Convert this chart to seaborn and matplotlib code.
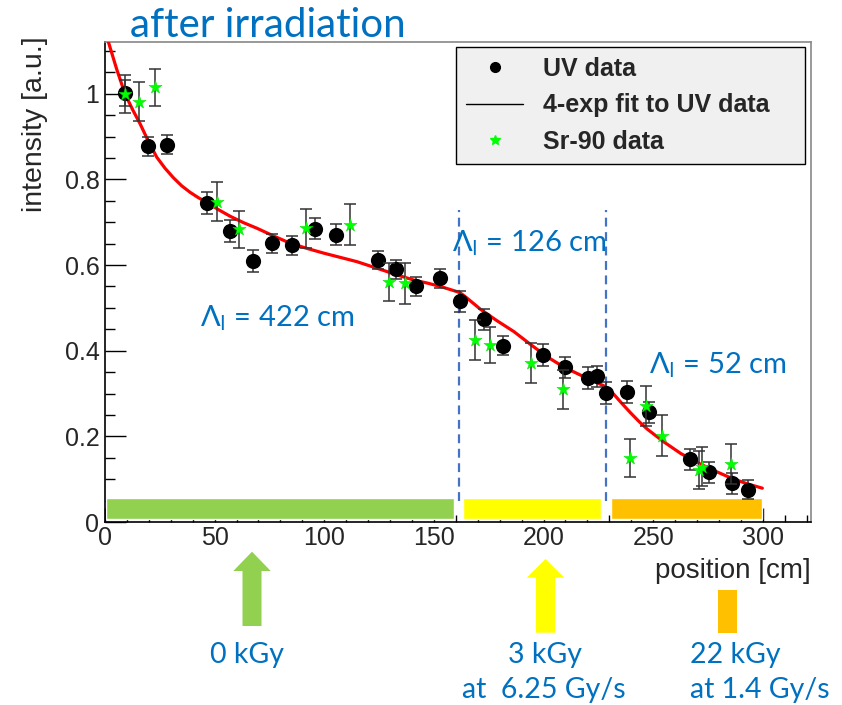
import numpy as np
import pandas as pd
import matplotlib
matplotlib.use("Agg")
import matplotlib.pyplot as plt
import seaborn as sns
from matplotlib.lines import Line2D
from matplotlib.patches import Polygon, Rectangle
from matplotlib.ticker import MultipleLocator

# ---------------- data ----------------
uv_x = [9.1, 19.8, 28.5, 46.7, 57.1, 67.3, 76.3, 85.4, 95.6, 105.5, 124.5,
        132.6, 141.8, 152.8, 162.1, 172.9, 181.3, 199.7, 209.7, 220.1, 224.2,
        228.3, 238.2, 248.2, 266.8, 275.3, 285.8, 293.2]
uv_y = [1.002, 0.877, 0.881, 0.745, 0.680, 0.610, 0.651, 0.646, 0.685, 0.671, 0.612,
        0.590, 0.550, 0.569, 0.515, 0.473, 0.412, 0.390, 0.361, 0.336, 0.340,
        0.301, 0.304, 0.256, 0.146, 0.116, 0.090, 0.075]
uv_err = [0.030, 0.022, 0.022, 0.025, 0.025, 0.025, 0.022, 0.022, 0.025, 0.025, 0.022,
          0.022, 0.022, 0.022, 0.025, 0.025, 0.022, 0.025, 0.025, 0.025, 0.025,
          0.025, 0.025, 0.025, 0.025, 0.025, 0.025, 0.022]

sr_x = [9.1, 15.7, 22.8, 51.3, 61.0, 91.5, 111.6, 129.7, 136.7, 168.6, 175.8,
        194.3, 208.8, 239.3, 246.9, 253.9, 271.0, 272.2, 285.7]
sr_y = [1.000, 0.982, 1.015, 0.748, 0.684, 0.686, 0.694, 0.560, 0.558, 0.425, 0.413,
        0.371, 0.310, 0.149, 0.271, 0.201, 0.121, 0.129, 0.136]
sr_err = [0.045, 0.046, 0.043, 0.046, 0.043, 0.045, 0.048, 0.044, 0.048, 0.047, 0.042,
          0.047, 0.045, 0.044, 0.047, 0.048, 0.045, 0.045, 0.047]

fit_x = [1.5, 5.3, 9.1, 12.6, 16.0, 19.8, 23.6, 27.4, 31.2, 35.0, 38.8, 42.7, 46.7,
         51.9, 57.1, 63.2, 69.3, 76.9, 84.5, 92.1, 99.7, 107.3, 114.9,
         125.6, 133.2, 140.8, 147.0, 153.0, 161.8, 165.1, 171.2, 178.8, 186.4,
         194.0, 201.6, 209.2, 216.9, 222.6, 228.3, 232.1, 235.9, 239.7, 243.5,
         247.3, 254.9, 262.6, 270.1, 277.8, 285.4, 293.0, 299.8]
fit_y = [1.122, 1.058, 1.000, 0.963, 0.930, 0.889, 0.852, 0.826, 0.804, 0.785, 0.770,
         0.757, 0.746, 0.729, 0.714, 0.699, 0.686, 0.668, 0.651, 0.639, 0.628, 0.618,
         0.608, 0.590, 0.577, 0.565, 0.558, 0.550, 0.536, 0.523, 0.497, 0.470, 0.445,
         0.415, 0.386, 0.362, 0.343, 0.330, 0.316, 0.298, 0.276, 0.255, 0.235,
         0.217, 0.187, 0.160, 0.139, 0.120, 0.103, 0.089, 0.079]

band_start = [0.5, 163.4, 230.6]
band_end = [159.2, 226.0, 299.8]
band_colors = ["#92D050", "#FFFF00", "#FFC000"]

region_edges = [161.5, 228.3]
lambda_labels = ["422 cm", "126 cm", "52 cm"]

legend_labels = ["UV data", "4-exp fit to UV data", "Sr-90 data"]
dose_labels = ["0 kGy", "3 kGy", "at  6.25 Gy/s", "22 kGy", "at 1.4 Gy/s"]

# ---------------- style ----------------
sns.set_theme(style="white")
plt.rcParams["font.family"] = ["Liberation Sans", "DejaVu Sans"]
plt.rcParams["mathtext.fontset"] = "dejavusans"

BLUE = "#0070C0"
DASH = "#4472C4"
BLUE_FONT = ["Lato", "DejaVu Sans"]

fig = plt.figure(figsize=(8.42, 7.05), dpi=100)
ax = fig.add_axes([105 / 842, 1 - 522 / 705, 706 / 842, 480 / 705])

# colored dose bands
ax.barh(y=[0.0305] * 3, width=np.array(band_end) - np.array(band_start),
        left=band_start, height=0.049, color=band_colors, zorder=1)

# dashed region separators
for xe in region_edges:
    ax.plot([xe, xe], [0.05, 0.728], ls=(0, (4, 2.5)), color=DASH, lw=1.6, zorder=2)

# fit curve
fit_df = pd.DataFrame({"x": fit_x, "y": fit_y})
sns.lineplot(data=fit_df, x="x", y="y", sort=False, estimator=None, color="red",
             lw=2.3, ax=ax, zorder=3)

# UV data
ax.errorbar(uv_x, uv_y, yerr=uv_err, fmt="none", ecolor="#333333", elinewidth=1.1,
            capsize=4, capthick=1.1, zorder=4)
uv_df = pd.DataFrame({"x": uv_x, "y": uv_y})
sns.scatterplot(data=uv_df, x="x", y="y", marker="o", s=120, color="black",
                edgecolor="black", linewidth=0, ax=ax, zorder=5)

# Sr-90 data
ax.errorbar(sr_x, sr_y, yerr=sr_err, fmt="none", ecolor="#333333", elinewidth=1.1,
            capsize=4, capthick=1.1, zorder=6)
sr_df = pd.DataFrame({"x": sr_x, "y": sr_y})
sns.scatterplot(data=sr_df, x="x", y="y", marker="*", s=100, color="#00FF00",
                edgecolor="#00DD00", linewidth=0.3, ax=ax, zorder=7)

# axes formatting
ax.set_xlim(0, 322)
ax.set_ylim(0, 1.121)
ax.xaxis.set_minor_locator(MultipleLocator(10))
ax.yaxis.set_minor_locator(MultipleLocator(0.05))
ax.set_xticks([0, 50, 100, 150, 200, 250, 300])
ax.set_xticklabels(["0", "50", "100", "150", "200", "250", "300"])
ax.set_yticks([0, 0.2, 0.4, 0.6, 0.8, 1.0])
ax.set_yticklabels(["0", "0.2", "0.4", "0.6", "0.8", "1"])
ax.tick_params(axis="x", which="major", direction="in", length=10.4, width=1,
               labelsize=18, pad=3, color="black")
ax.tick_params(axis="x", which="minor", direction="in", length=5, width=1, color="black")
ax.tick_params(axis="y", which="major", direction="in", length=15, width=1,
               labelsize=18, pad=4, color="black")
ax.tick_params(axis="y", which="minor", direction="in", length=7.5, width=1, color="black")
ax.tick_params(bottom=True, left=True, top=False, right=False, which="both")
for s in ["left", "bottom"]:
    ax.spines[s].set_color("black")
    ax.spines[s].set_linewidth(1.2)
for s in ["top", "right"]:
    ax.spines[s].set_color("#888888")
    ax.spines[s].set_linewidth(1.2)

ax.set_xlabel("position [cm]", fontsize=20)
ax.xaxis.set_label_coords(1.0, -0.075)
ax.xaxis.label.set_ha("right")
ax.xaxis.label.set_va("top")
ax.set_ylabel("intensity [a.u.]", fontsize=20.5)
ax.yaxis.set_label_coords(-0.099, 1.012)
ax.yaxis.label.set_ha("right")
ax.yaxis.label.set_va("center")

# legend
handles = [Line2D([], [], marker="o", ls="", color="black", markersize=7),
           Line2D([], [], color="black", lw=1),
           Line2D([], [], marker="*", ls="", color="#00FF00", markersize=7)]
leg = ax.legend(handles, legend_labels, loc="upper left",
                bbox_to_anchor=(0.497, 0.754, 0.4945, 0.236), mode="expand",
                borderaxespad=0, prop={"weight": "bold", "size": 18},
                handlelength=2.3, handletextpad=0.8, borderpad=0.4,
                labelspacing=0.5, fancybox=False, framealpha=1,
                facecolor="#F0F0F0", edgecolor="black")
leg.get_frame().set_linewidth(1)
leg.set_zorder(10)

# Lambda annotations
lam_pos = [(43.4, 0.477), (158.4, 0.652), (248.0, 0.367)]
for (lx, ly), lab in zip(lam_pos, lambda_labels):
    ax.text(lx, ly, "\u039b$_\\mathrm{l}$ = " + lab, fontsize=21, color=BLUE,
            family=BLUE_FONT, va="center", ha="left", zorder=8)

# overlay for figure-level annotations (pixel coordinates)
ov = fig.add_axes([0, 0, 1, 1])
ov.set_xlim(0, 842)
ov.set_ylim(705, 0)
ov.axis("off")
ov.patch.set_alpha(0)

ov.text(130, 37, "after irradiation", fontsize=29, color=BLUE, family=BLUE_FONT,
        va="baseline", ha="left")

def up_arrow(cx, tip, base, bottom, hw, sw, color):
    pts = [(cx, tip), (cx + hw, base), (cx + sw, base), (cx + sw, bottom),
           (cx - sw, bottom), (cx - sw, base), (cx - hw, base)]
    ov.add_patch(Polygon(pts, closed=True, color=color, lw=0))

up_arrow(252.0, 551.7, 571.0, 626.0, 18.7, 9.5, band_colors[0])
up_arrow(545.5, 559.0, 577.7, 632.7, 18.8, 9.5, band_colors[1])
ov.add_patch(Rectangle((717.7, 590.0), 19.0, 42.7, color=band_colors[2], lw=0))

dose_pos = [(210, 655), (508, 655), (462, 690), (690, 655), (690, 690)]
for (dx, dy), lab in zip(dose_pos, dose_labels):
    ov.text(dx, dy, lab, fontsize=20.5, color=BLUE, family=BLUE_FONT,
            va="center", ha="left")

fig.savefig("out.png", dpi=100)
